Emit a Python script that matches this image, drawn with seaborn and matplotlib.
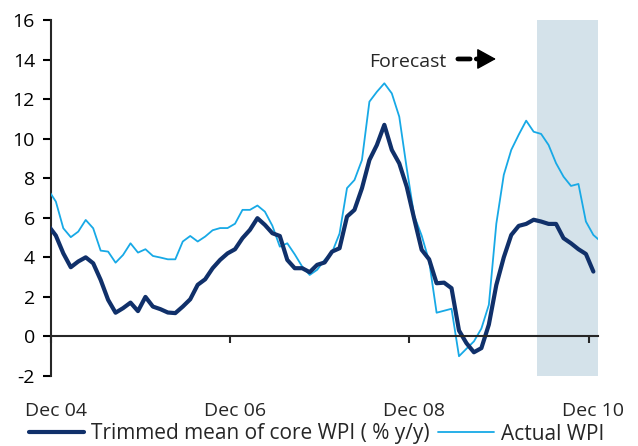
import numpy as np
import pandas as pd
import matplotlib
matplotlib.use("Agg")
import matplotlib.pyplot as plt
import seaborn as sns
from matplotlib.lines import Line2D

# Monthly year-on-year inflation, Nov 2004 - Jan 2011 (% y/y)
months = pd.period_range("2004-11", periods=75, freq="M")

actual_wpi = [7.4, 6.82, 5.47, 5.02, 5.30, 5.89, 5.47, 4.34, 4.29, 3.73, 4.12, 4.71,
              4.24, 4.41, 4.07, 3.99, 3.90, 3.90, 4.80, 5.08, 4.80, 5.05, 5.37, 5.48,
              5.48, 5.70, 6.40, 6.40, 6.62, 6.31, 5.60, 4.54, 4.71, 4.15, 3.53, 3.11,
              3.37, 3.87, 4.25, 5.20, 7.50, 7.91, 8.92, 11.87, 12.37, 12.80, 12.29, 11.11,
              8.50, 6.10, 5.10, 3.80, 1.20, 1.30, 1.40, -1.00, -0.62, -0.25, 0.40, 1.60,
              5.70, 8.17, 9.43, 10.20, 10.91, 10.35, 10.24, 9.68, 8.76, 8.08, 7.61, 7.71,
              5.81, 5.13, 4.80]

trimmed_core = [5.6, 5.1, 4.2, 3.5, 3.79, 4.0, 3.7, 2.86, 1.85, 1.2, 1.43, 1.71,
                1.28, 2.0, 1.51, 1.38, 1.21, 1.18, 1.51, 1.88, 2.61, 2.89, 3.45, 3.87,
                4.2, 4.41, 4.97, 5.39, 5.98, 5.64, 5.22, 5.08, 3.87, 3.45, 3.45, 3.25,
                3.62, 3.74, 4.29, 4.46, 6.06, 6.4, 7.49, 8.92, 9.68, 10.7, 9.43, 8.75,
                7.57, 5.95, 4.38, 3.9, 2.69, 2.72, 2.44, 0.3, -0.34, -0.8, -0.59, 0.6,
                2.6, 4.0, 5.13, 5.59, 5.69, 5.9, 5.81, 5.69, 5.69, 4.97, 4.71, 4.41,
                4.17, 3.28]

tick_months = ["2004-12", "2006-12", "2008-12", "2010-12"]
tick_labels = ["Dec 04", "Dec 06", "Dec 08", "Dec 10"]
forecast_from = "2010-05"

DARK = "#10306A"
LIGHT = "#17A9E6"
SHADE = "#D4E2EA"

base = pd.Period("2004-12", freq="M")


def month_index(p):
    return (pd.Period(p, freq="M") - base).n


def pos(p):
    # points sit in the middle of their month slot
    return month_index(p) + 0.65


df = pd.DataFrame({
    "x": [pos(m) for m in months],
    "actual": actual_wpi,
    "core": trimmed_core + [np.nan] * (len(actual_wpi) - len(trimmed_core)),
})

sns.set_style("ticks")
plt.rcParams["font.family"] = ["Open Sans", "DejaVu Sans"]
plt.rcParams["axes.unicode_minus"] = False

fig = plt.figure(figsize=(6.38, 4.46), dpi=100)
ax = fig.add_axes([51 / 638, 1 - 376 / 446, (598 - 51) / 638, (376 - 20) / 446])

ax.axvspan(pos(forecast_from) - 0.5, 80, color=SHADE, lw=0, zorder=0)

sns.lineplot(data=df, x="x", y="actual", ax=ax, color=LIGHT, lw=1.3,
             solid_joinstyle="round", zorder=3, legend=False)
sns.lineplot(data=df.dropna(), x="x", y="core", ax=ax, color=DARK, lw=3.0,
             solid_joinstyle="round", zorder=4, legend=False)

ax.set_xlim(0, 73.27)
ax.set_ylim(-2, 16)
ax.set_yticks(np.arange(-2, 17, 2))
ax.set_xlabel("")
ax.set_ylabel("")

# month boundaries carry the tick marks, labels centre on the month
ax.set_xticks([month_index(m) for m in tick_months], minor=True)
ax.set_xticks([pos(m) for m in tick_months])
ax.set_xticklabels(tick_labels)

for s in ("top", "right"):
    ax.spines[s].set_visible(False)
ax.spines["bottom"].set_position(("data", 0))
ax.spines["bottom"].set_linewidth(1.5)
ax.spines["left"].set_linewidth(1.5)
ax.spines["bottom"].set_zorder(5)

ax.tick_params(axis="y", length=6, width=1.5, pad=5.5, labelsize=14,
               colors="black")
ax.tick_params(axis="x", which="major", length=0, pad=47, labelsize=14)
ax.tick_params(axis="x", which="minor", length=5, width=1.5, direction="out")

# "Forecast" marker: dashed shaft followed by a solid triangular head
ax.text(52.9, 13.9, "Forecast", ha="right", va="center", fontsize=14)
ax.annotate("", xy=(57.4, 14.03), xytext=(54.5, 14.03),
            arrowprops=dict(arrowstyle="-", lw=3.4, color="black",
                            linestyle=(0, (2.6, 1.3)), shrinkA=0, shrinkB=0))
ax.annotate("", xy=(59.6, 14.03), xytext=(57.2, 14.03),
            arrowprops=dict(arrowstyle="-|>,head_length=0.6,head_width=0.33",
                            mutation_scale=20, lw=1.0, color="black",
                            shrinkA=0, shrinkB=0))

handles = [Line2D([], [], color=DARK, lw=3.0),
           Line2D([], [], color=LIGHT, lw=1.3)]
fig.legend(handles, ["Trimmed mean of core WPI ( % y/y)", "Actual WPI"],
           loc="center", bbox_to_anchor=(316.5 / 638, 1 - 434 / 446), ncol=2,
           frameon=False, fontsize=15, handlelength=2.65, handletextpad=0.35,
           columnspacing=0.4, borderpad=0)

fig.savefig("out.png", dpi=100)
